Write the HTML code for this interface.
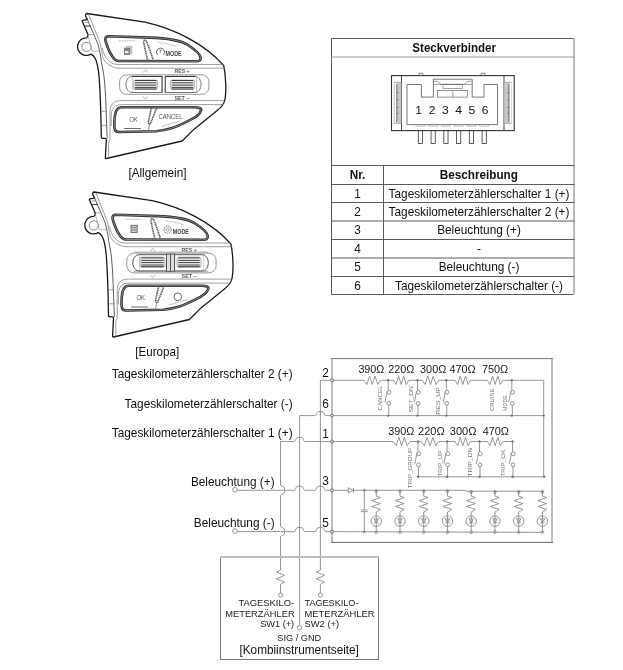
<!DOCTYPE html>
<html><head><meta charset="utf-8"><style>
html,body{margin:0;padding:0;background:#fff;width:623px;height:670px;overflow:hidden}
svg{display:block;will-change:transform}
text{font-family:"Liberation Sans", sans-serif}
</style></head><body>
<svg width="623" height="670" viewBox="0 0 623 670" font-family='"Liberation Sans", sans-serif'>
<g><path d="M86.8 13.5 L145 22.2 C175 29 205 44 223.7 65.5 C225.8 75 226.6 92 224.8 100 C224 104.5 221 107.5 216.9 110.8 L193.8 129.4 L182.2 141 L106.3 158.5 C105.5 158.5 105.3 158 105.4 157.3 L106.3 139.6 C106.3 138.7 105.9 138.3 105 138.3 L102.4 138.3 C101.6 138.3 101.3 137.8 101.3 137 C101 115 100 90 99.2 78 C98.3 68 96.8 60.5 94.6 57.3 C93.6 55.9 92.3 54.9 91 54.1 A8.8 8.8 0 1 1 86.4 37.8 C87.5 37.5 88.1 36.3 88.1 34.7 L82.4 21.8 C82 21 82 20.5 82.8 20.4 L87.3 19.6 L85.6 16 C85.3 14.8 85.8 13.7 86.8 13.5 Z" fill="#fff" stroke="#1a1a1a" stroke-width="1.3" stroke-linejoin="round"/><circle cx="86.6" cy="46.9" r="4.6" fill="none" stroke="#555" stroke-width="0.7"/><g fill="none"><path d="M87.5 19.7 L97.9 44 C99.5 50 100.8 56 101.4 61.9 L103.7 74 C104.5 80 105 88 105.5 95 L107.2 138.4" stroke="#333" stroke-width="0.8"/><path d="M88.9 14.8 L100.5 44 C101.5 50 102.2 54 102.8 57.4 C104 61 107 64 112 66.4 C114 67.5 116 68.2 120 68.2 H224.8" stroke="#777" stroke-width="0.7"/><path d="M102.3 48 C103.3 53 105.5 59.5 112 63.3 C114 64.2 116 64.5 120 64.5 H223.8" stroke="#777" stroke-width="0.7"/><path d="M88.3 36 L92 51.2 H98.7" stroke="#888" stroke-width="0.6" fill="none"/><path d="M84.3 26.1 H90.8" stroke="#222" stroke-width="0.9"/><path d="M84.3 22.4 H89 M88 34.5 H93.4 M101.4 111.3 H106.9 M101.4 125.3 H107" stroke="#666" stroke-width="0.6"/><path d="M108.6 158 V143 L110 140 V112 C110 104.5 113.5 100.6 121 100.6 H224.3" stroke="#777" stroke-width="0.7"/><path d="M111.2 126 V116 C111.2 109 114.5 104.6 121.5 104.6 H222" stroke="#777" stroke-width="0.7"/></g><rect x="119.6" y="74.8" width="89.3" height="19.5" rx="7" fill="none" stroke="#999" stroke-width="1"/><path d="M108.5 36.3 L150 37.6 C165 38 180 40 188 45 C195 49.5 200 54 200.6 57.5 C201 60.5 199 61.3 196 61.3 L118.5 61 C116.5 61 114.5 59.5 113 57.5 C110.5 54 108.5 50 107 45.5 C106 42.5 105.3 41 105.3 39.5 C105.3 37.5 106.5 36.3 108.5 36.3 Z" fill="none" stroke="#2a2a2a" stroke-width="2.6"/><path d="M108.5 36.3 L150 37.6 C165 38 180 40 188 45 C195 49.5 200 54 200.6 57.5 C201 60.5 199 61.3 196 61.3 L118.5 61 C116.5 61 114.5 59.5 113 57.5 C110.5 54 108.5 50 107 45.5 C106 42.5 105.3 41 105.3 39.5 C105.3 37.5 106.5 36.3 108.5 36.3 Z" fill="none" stroke="#aaa" stroke-width="0.7"/><path d="M147.6 60.6 L143.7 42.5 C143.4 41 144.5 40 145.5 40.5 C146.5 41 147 42 147.5 43.5 L153.2 59.8" fill="none" stroke="#555" stroke-width="1.6" stroke-dasharray="1.2 0.5"/><path d="M143.8 37.3 L144.2 41" stroke="#777" stroke-width="0.7"/><path d="M118.8 40.8 H135.2" stroke="#888" stroke-width="0.7" stroke-dasharray="1 0.6"/><path d="M158 42.4 C165 43 171 44.5 176.5 46.4" fill="none" stroke="#888" stroke-width="0.7" stroke-dasharray="1 0.6"/><text x="165.6" y="55.8" font-size="7" font-weight="bold" fill="#444" textLength="16.1" lengthAdjust="spacingAndGlyphs">MODE</text><path d="M121.5 107.2 L194.7 107.2 C199 107.2 201.5 108.2 201.1 110.4 C200 114 195 118 188.3 120.9 C182 124 177 126.5 172.2 128.1 C166 130 161 131 156.2 131.3 L119 132 C116.3 132 114.6 130.3 114.4 127.3 C114.2 121 114.6 116 115.7 112.4 C116.7 109.2 118.6 107.4 121.5 107.3 Z" fill="none" stroke="#2a2a2a" stroke-width="2.6"/><path d="M121.5 107.2 L194.7 107.2 C199 107.2 201.5 108.2 201.1 110.4 C200 114 195 118 188.3 120.9 C182 124 177 126.5 172.2 128.1 C166 130 161 131 156.2 131.3 L119 132 C116.3 132 114.6 130.3 114.4 127.3 C114.2 121 114.6 116 115.7 112.4 C116.7 109.2 118.6 107.4 121.5 107.3 Z" fill="none" stroke="#aaa" stroke-width="0.7"/><path d="M151.4 107.8 L148.5 121.5 C148.1 123.5 149.5 124.8 150.5 123.5 L156.8 107.8" fill="none" stroke="#555" stroke-width="1.6" stroke-dasharray="1.2 0.5"/><path d="M149.5 124 L148.3 131.5" stroke="#777" stroke-width="0.8"/><text x="129.2" y="121.5" font-size="7.6" fill="#555" textLength="8.6" lengthAdjust="spacingAndGlyphs">OK</text><line x1="124" y1="128.5" x2="140.9" y2="128.5" stroke="#444" stroke-width="0.8"/><path d="M161.8 126.5 L180.2 120.9" stroke="#888" stroke-width="0.8" stroke-dasharray="1 0.6"/><path d="M142.8 72.6 L145.5 70 L148.2 72.6 M142.8 96.6 L145.5 99.2 L148.2 96.6" fill="none" stroke="#777" stroke-width="0.6"/><text x="174.4" y="73.3" font-size="5.4" font-weight="bold" fill="#555" textLength="15.2" lengthAdjust="spacingAndGlyphs">RES +</text><text x="174.4" y="99.9" font-size="5.4" font-weight="bold" fill="#555" textLength="15.2" lengthAdjust="spacingAndGlyphs">SET −</text><path d="M132 76.4 H162.1 V92.5 H132 C128.5 92.5 126 89 126 84.5 C126 80 128.5 76.4 132 76.4 Z" fill="#fff" stroke="#555" stroke-width="0.8"/><path d="M165.3 76.4 H195 C198.5 76.4 201 80 201 84.5 C201 89 198.5 92.5 195 92.5 H165.3 Z" fill="#fff" stroke="#555" stroke-width="0.8"/><path d="M132 76.4 H162 M165.4 76.4 H195" stroke="#333" stroke-width="1"/><path d="M132.4 76.4 V92.5 M196.5 76.4 V92.5" stroke="#999" stroke-width="0.5"/><path d="M162.1 76 V93 M165.3 76 V93" stroke="#555" stroke-width="0.9"/><rect x="133.6" y="80.0" width="24.10" height="9.30" rx="1.8" fill="#f2f2f2" stroke="#888" stroke-width="0.6"/><line x1="134.79999999999998" y1="80.5" x2="156.5" y2="80.5" stroke="#2a2a2a" stroke-width="0.9"/><line x1="134.79999999999998" y1="82.8" x2="156.5" y2="82.8" stroke="#2a2a2a" stroke-width="0.9"/><line x1="134.79999999999998" y1="85.1" x2="156.5" y2="85.1" stroke="#2a2a2a" stroke-width="0.9"/><line x1="134.79999999999998" y1="87.4" x2="156.5" y2="87.4" stroke="#2a2a2a" stroke-width="0.9"/><line x1="134.79999999999998" y1="89.0" x2="156.5" y2="89.0" stroke="#2a2a2a" stroke-width="0.9"/><rect x="170.4" y="80.0" width="24.10" height="9.30" rx="1.8" fill="#f2f2f2" stroke="#888" stroke-width="0.6"/><line x1="171.6" y1="80.5" x2="193.3" y2="80.5" stroke="#2a2a2a" stroke-width="0.9"/><line x1="171.6" y1="82.8" x2="193.3" y2="82.8" stroke="#2a2a2a" stroke-width="0.9"/><line x1="171.6" y1="85.1" x2="193.3" y2="85.1" stroke="#2a2a2a" stroke-width="0.9"/><line x1="171.6" y1="87.4" x2="193.3" y2="87.4" stroke="#2a2a2a" stroke-width="0.9"/><line x1="171.6" y1="89.0" x2="193.3" y2="89.0" stroke="#2a2a2a" stroke-width="0.9"/><path d="M126.2 47.9 V46.4 H131.8 V53.4 H129.9" fill="#ccc" stroke="#aaa" stroke-width="0.8"/><rect x="124.3" y="48.2" width="5.4" height="6.3" fill="#888" stroke="#666" stroke-width="0.7"/><rect x="125" y="51" width="3.5" height="2.2" fill="#eee"/><path d="M157.5 54.8 A4 4 0 1 1 163.5 54.8" fill="none" stroke="#555" stroke-width="0.9"/><path d="M160.4 49.5 V53 M159.3 50.5 H161.5" stroke="#666" stroke-width="0.6"/><text x="158.6" y="118.9" font-size="6.8" fill="#555" textLength="24" lengthAdjust="spacingAndGlyphs">CANCEL</text></g>
<g transform="translate(7.2 178.5)"><path d="M86.8 13.5 L145 22.2 C175 29 205 44 223.7 65.5 C225.8 75 226.6 92 224.8 100 C224 104.5 221 107.5 216.9 110.8 L193.8 129.4 L182.2 141 L106.3 158.5 C105.5 158.5 105.3 158 105.4 157.3 L106.3 139.6 C106.3 138.7 105.9 138.3 105 138.3 L102.4 138.3 C101.6 138.3 101.3 137.8 101.3 137 C101 115 100 90 99.2 78 C98.3 68 96.8 60.5 94.6 57.3 C93.6 55.9 92.3 54.9 91 54.1 A8.8 8.8 0 1 1 86.4 37.8 C87.5 37.5 88.1 36.3 88.1 34.7 L82.4 21.8 C82 21 82 20.5 82.8 20.4 L87.3 19.6 L85.6 16 C85.3 14.8 85.8 13.7 86.8 13.5 Z" fill="#fff" stroke="#1a1a1a" stroke-width="1.3" stroke-linejoin="round"/><circle cx="86.6" cy="46.9" r="4.6" fill="none" stroke="#555" stroke-width="0.7"/><g fill="none"><path d="M87.5 19.7 L97.9 44 C99.5 50 100.8 56 101.4 61.9 L103.7 74 C104.5 80 105 88 105.5 95 L107.2 138.4" stroke="#333" stroke-width="0.8"/><path d="M88.9 14.8 L100.5 44 C101.5 50 102.2 54 102.8 57.4 C104 61 107 64 112 66.4 C114 67.5 116 68.2 120 68.2 H224.8" stroke="#777" stroke-width="0.7"/><path d="M102.3 48 C103.3 53 105.5 59.5 112 63.3 C114 64.2 116 64.5 120 64.5 H223.8" stroke="#777" stroke-width="0.7"/><path d="M88.3 36 L92 51.2 H98.7" stroke="#888" stroke-width="0.6" fill="none"/><path d="M84.3 26.1 H90.8" stroke="#222" stroke-width="0.9"/><path d="M84.3 22.4 H89 M88 34.5 H93.4 M101.4 111.3 H106.9 M101.4 125.3 H107" stroke="#666" stroke-width="0.6"/><path d="M108.6 158 V143 L110 140 V112 C110 104.5 113.5 100.6 121 100.6 H224.3" stroke="#777" stroke-width="0.7"/><path d="M111.2 126 V116 C111.2 109 114.5 104.6 121.5 104.6 H222" stroke="#777" stroke-width="0.7"/></g><rect x="119.6" y="74.8" width="89.3" height="19.5" rx="7" fill="none" stroke="#999" stroke-width="1"/><path d="M108.5 36.3 L150 37.6 C165 38 180 40 188 45 C195 49.5 200 54 200.6 57.5 C201 60.5 199 61.3 196 61.3 L118.5 61 C116.5 61 114.5 59.5 113 57.5 C110.5 54 108.5 50 107 45.5 C106 42.5 105.3 41 105.3 39.5 C105.3 37.5 106.5 36.3 108.5 36.3 Z" fill="none" stroke="#2a2a2a" stroke-width="2.6"/><path d="M108.5 36.3 L150 37.6 C165 38 180 40 188 45 C195 49.5 200 54 200.6 57.5 C201 60.5 199 61.3 196 61.3 L118.5 61 C116.5 61 114.5 59.5 113 57.5 C110.5 54 108.5 50 107 45.5 C106 42.5 105.3 41 105.3 39.5 C105.3 37.5 106.5 36.3 108.5 36.3 Z" fill="none" stroke="#aaa" stroke-width="0.7"/><path d="M147.6 60.6 L143.7 42.5 C143.4 41 144.5 40 145.5 40.5 C146.5 41 147 42 147.5 43.5 L153.2 59.8" fill="none" stroke="#555" stroke-width="1.6" stroke-dasharray="1.2 0.5"/><path d="M143.8 37.3 L144.2 41" stroke="#777" stroke-width="0.7"/><path d="M118.8 40.8 H135.2" stroke="#888" stroke-width="0.7" stroke-dasharray="1 0.6"/><path d="M158 42.4 C165 43 171 44.5 176.5 46.4" fill="none" stroke="#888" stroke-width="0.7" stroke-dasharray="1 0.6"/><text x="165.6" y="55.8" font-size="7" font-weight="bold" fill="#444" textLength="16.1" lengthAdjust="spacingAndGlyphs">MODE</text><path d="M121.5 107.2 L194.7 107.2 C199 107.2 201.5 108.2 201.1 110.4 C200 114 195 118 188.3 120.9 C182 124 177 126.5 172.2 128.1 C166 130 161 131 156.2 131.3 L119 132 C116.3 132 114.6 130.3 114.4 127.3 C114.2 121 114.6 116 115.7 112.4 C116.7 109.2 118.6 107.4 121.5 107.3 Z" fill="none" stroke="#2a2a2a" stroke-width="2.6"/><path d="M121.5 107.2 L194.7 107.2 C199 107.2 201.5 108.2 201.1 110.4 C200 114 195 118 188.3 120.9 C182 124 177 126.5 172.2 128.1 C166 130 161 131 156.2 131.3 L119 132 C116.3 132 114.6 130.3 114.4 127.3 C114.2 121 114.6 116 115.7 112.4 C116.7 109.2 118.6 107.4 121.5 107.3 Z" fill="none" stroke="#aaa" stroke-width="0.7"/><path d="M151.4 107.8 L148.5 121.5 C148.1 123.5 149.5 124.8 150.5 123.5 L156.8 107.8" fill="none" stroke="#555" stroke-width="1.6" stroke-dasharray="1.2 0.5"/><path d="M149.5 124 L148.3 131.5" stroke="#777" stroke-width="0.8"/><text x="129.2" y="121.5" font-size="7.6" fill="#555" textLength="8.6" lengthAdjust="spacingAndGlyphs">OK</text><line x1="124" y1="128.5" x2="140.9" y2="128.5" stroke="#444" stroke-width="0.8"/><path d="M161.8 126.5 L180.2 120.9" stroke="#888" stroke-width="0.8" stroke-dasharray="1 0.6"/><path d="M142.8 72.6 L145.5 70 L148.2 72.6 M142.8 96.6 L145.5 99.2 L148.2 96.6" fill="none" stroke="#777" stroke-width="0.6"/><text x="174.4" y="73.3" font-size="5.4" font-weight="bold" fill="#555" textLength="15.2" lengthAdjust="spacingAndGlyphs">RES +</text><text x="174.4" y="99.9" font-size="5.4" font-weight="bold" fill="#555" textLength="15.2" lengthAdjust="spacingAndGlyphs">SET −</text><path d="M126.5 74.2 H201 M126.5 93.4 H201" stroke="#bbb" stroke-width="2.6"/><path d="M132 76.2 H159.3 V92.4 H132 C128.5 92.4 125.6 89 125.6 84.3 C125.6 79.7 128.5 76.2 132 76.2 Z" fill="#fff" stroke="#444" stroke-width="0.9"/><path d="M167.4 76.2 H195 C198.5 76.2 201.1 79.7 201.1 84.3 C201.1 89 198.5 92.4 195 92.4 H167.4 Z" fill="#fff" stroke="#444" stroke-width="0.9"/><path d="M132.4 76.4 V92.4 M196.5 76.4 V92.4" stroke="#999" stroke-width="0.5"/><rect x="159.3" y="75.6" width="4" height="17.2" fill="#ddd" stroke="#444" stroke-width="0.8"/><rect x="163.3" y="75.6" width="4.1" height="17.2" fill="#ddd" stroke="#444" stroke-width="0.8"/><rect x="132.8" y="78.7" width="25.00" height="10.10" rx="1.8" fill="#f2f2f2" stroke="#888" stroke-width="0.6"/><line x1="134.0" y1="79.4" x2="156.60000000000002" y2="79.4" stroke="#2a2a2a" stroke-width="0.9"/><line x1="134.0" y1="81.9" x2="156.60000000000002" y2="81.9" stroke="#2a2a2a" stroke-width="0.9"/><line x1="134.0" y1="84.1" x2="156.60000000000002" y2="84.1" stroke="#2a2a2a" stroke-width="0.9"/><line x1="134.0" y1="86.5" x2="156.60000000000002" y2="86.5" stroke="#2a2a2a" stroke-width="0.9"/><line x1="134.0" y1="88.2" x2="156.60000000000002" y2="88.2" stroke="#2a2a2a" stroke-width="0.9"/><rect x="169.8" y="78.7" width="24.00" height="10.10" rx="1.8" fill="#f2f2f2" stroke="#888" stroke-width="0.6"/><line x1="171.0" y1="79.4" x2="192.60000000000002" y2="79.4" stroke="#2a2a2a" stroke-width="0.9"/><line x1="171.0" y1="81.9" x2="192.60000000000002" y2="81.9" stroke="#2a2a2a" stroke-width="0.9"/><line x1="171.0" y1="84.1" x2="192.60000000000002" y2="84.1" stroke="#2a2a2a" stroke-width="0.9"/><line x1="171.0" y1="86.5" x2="192.60000000000002" y2="86.5" stroke="#2a2a2a" stroke-width="0.9"/><line x1="171.0" y1="88.2" x2="192.60000000000002" y2="88.2" stroke="#2a2a2a" stroke-width="0.9"/><rect x="123.8" y="46.8" width="6.2" height="7.2" fill="#ccc" stroke="#555" stroke-width="0.8"/><path d="M124.3 49.2 H129.5 M124.3 51.6 H129.5" stroke="#555" stroke-width="0.6"/><circle cx="160.4" cy="51.2" r="3.6" fill="none" stroke="#555" stroke-width="0.9" stroke-dasharray="1.6 0.8"/><circle cx="160.4" cy="51.2" r="1.5" fill="none" stroke="#666" stroke-width="0.6"/><circle cx="170.6" cy="118.3" r="3.8" fill="none" stroke="#444" stroke-width="0.8"/></g>
<text x="157.4" y="177.1" font-size="11.75" text-anchor="middle" font-weight="normal" fill="#111" transform="translate(0 -7.084) scale(1 1.04)" >[Allgemein]</text>
<text x="157.2" y="356.4" font-size="11.6" text-anchor="middle" font-weight="normal" fill="#111" transform="translate(0 -14.256) scale(1 1.04)" >[Europa]</text>
<g stroke="#5a5a5a" stroke-width="1" fill="none">
<path d="M574 38.5 H331.5 V294.5 H574"/>
<line x1="574" y1="38" x2="574" y2="295" stroke="#bbb" stroke-width="2"/>
<line x1="331" y1="57" x2="574.5" y2="57" stroke="#999" stroke-width="1.2"/>
<line x1="331" y1="165.5" x2="574.5" y2="165.5"/>
<line x1="331" y1="184.5" x2="574.5" y2="184.5"/>
<line x1="331" y1="202.5" x2="574.5" y2="202.5"/>
<line x1="331" y1="221.0" x2="574.5" y2="221.0"/>
<line x1="331" y1="239.5" x2="574.5" y2="239.5"/>
<line x1="331" y1="258.0" x2="574.5" y2="258.0"/>
<line x1="331" y1="276.5" x2="574.5" y2="276.5"/>
<line x1="383.5" y1="165.5" x2="383.5" y2="294.5"/>
</g>
<text x="454.2" y="52.4" font-size="11.6" text-anchor="middle" font-weight="bold" fill="#111" transform="translate(0 -2.096) scale(1 1.04)" >Steckverbinder</text>
<text x="357.5" y="179.4" font-size="11.75" text-anchor="middle" font-weight="bold" fill="#111" transform="translate(0 -7.176) scale(1 1.04)" >Nr.</text>
<text x="478.8" y="179.4" font-size="11.75" text-anchor="middle" font-weight="bold" fill="#111" transform="translate(0 -7.176) scale(1 1.04)" >Beschreibung</text>
<text x="357.5" y="197.7" font-size="11.83" text-anchor="middle" font-weight="normal" fill="#111" transform="translate(0 -7.908) scale(1 1.04)" >1</text>
<text x="479" y="197.7" font-size="11.83" text-anchor="middle" font-weight="normal" fill="#111" transform="translate(0 -7.908) scale(1 1.04)" >Tageskilometerzählerschalter 1 (+)</text>
<text x="357.5" y="215.7" font-size="11.83" text-anchor="middle" font-weight="normal" fill="#111" transform="translate(0 -8.628) scale(1 1.04)" >2</text>
<text x="479" y="215.7" font-size="11.83" text-anchor="middle" font-weight="normal" fill="#111" transform="translate(0 -8.628) scale(1 1.04)" >Tageskilometerzählerschalter 2 (+)</text>
<text x="357.5" y="234.2" font-size="11.83" text-anchor="middle" font-weight="normal" fill="#111" transform="translate(0 -9.368) scale(1 1.04)" >3</text>
<text x="479" y="234.2" font-size="11.83" text-anchor="middle" font-weight="normal" fill="#111" transform="translate(0 -9.368) scale(1 1.04)" >Beleuchtung (+)</text>
<text x="357.5" y="252.7" font-size="11.83" text-anchor="middle" font-weight="normal" fill="#111" transform="translate(0 -10.108) scale(1 1.04)" >4</text>
<text x="479" y="252.7" font-size="11.83" text-anchor="middle" font-weight="normal" fill="#111" transform="translate(0 -10.108) scale(1 1.04)" >-</text>
<text x="357.5" y="271.2" font-size="11.83" text-anchor="middle" font-weight="normal" fill="#111" transform="translate(0 -10.848) scale(1 1.04)" >5</text>
<text x="479" y="271.2" font-size="11.83" text-anchor="middle" font-weight="normal" fill="#111" transform="translate(0 -10.848) scale(1 1.04)" >Beleuchtung (-)</text>
<text x="357.5" y="289.7" font-size="11.83" text-anchor="middle" font-weight="normal" fill="#111" transform="translate(0 -11.588) scale(1 1.04)" >6</text>
<text x="479" y="289.7" font-size="11.83" text-anchor="middle" font-weight="normal" fill="#111" transform="translate(0 -11.588) scale(1 1.04)" >Tageskilometerzählerschalter (-)</text>
<g stroke="#333" stroke-width="0.9" fill="none">
<rect x="391.5" y="75.6" width="122.7" height="55" stroke-width="1.1"/>
<line x1="401.5" y1="75.5" x2="401.5" y2="130.5"/>
<line x1="504" y1="75.5" x2="504" y2="130.5"/>
<rect x="394.1" y="82.1" width="7.1" height="41.4" fill="#c8c8c8" stroke="#999" stroke-width="0.6"/>
<rect x="394.6" y="83" width="1.9" height="39.5" fill="#fff" stroke="none"/>
<line x1="396.8" y1="84" x2="396.8" y2="122" stroke="#444" stroke-width="0.7"/>
<line x1="396.8" y1="92.6" x2="398.6" y2="92.6" stroke="#555" stroke-width="0.6"/>
<line x1="396.8" y1="99.6" x2="398.6" y2="99.6" stroke="#555" stroke-width="0.6"/>
<line x1="396.8" y1="107.5" x2="398.6" y2="107.5" stroke="#555" stroke-width="0.6"/>
<line x1="396.8" y1="113.4" x2="398.6" y2="113.4" stroke="#555" stroke-width="0.6"/>
<rect x="504.0" y="82.1" width="7.1" height="41.4" fill="#c8c8c8" stroke="#999" stroke-width="0.6"/>
<rect x="509.4" y="83" width="1.9" height="39.5" fill="#fff" stroke="none"/>
<line x1="508.9" y1="84" x2="508.9" y2="122" stroke="#444" stroke-width="0.7"/>
<line x1="508.9" y1="92.6" x2="507.1" y2="92.6" stroke="#555" stroke-width="0.6"/>
<line x1="508.9" y1="99.6" x2="507.1" y2="99.6" stroke="#555" stroke-width="0.6"/>
<line x1="508.9" y1="107.5" x2="507.1" y2="107.5" stroke="#555" stroke-width="0.6"/>
<line x1="508.9" y1="113.4" x2="507.1" y2="113.4" stroke="#555" stroke-width="0.6"/>
<path d="M407 84.5 H421.4 V97.1 H433.4 V79.2 H472.2 V97.1 H484 V84.5 H497.5 V124.6 H407 Z" stroke="#555" stroke-width="0.8"/>
<path d="M433.4 81.3 H438 L440.5 84.4 H464.3 L467.2 81.3 H472.2 M433.4 84.4 H472.2" stroke="#666" stroke-width="0.6"/>
<rect x="443" y="84.4" width="19.2" height="4" stroke="#666" stroke-width="0.6"/>
<rect x="437.3" y="90.5" width="30.3" height="6.6" stroke="#666" stroke-width="0.7"/>
<line x1="452.9" y1="91.5" x2="452.9" y2="97.1" stroke="#777" stroke-width="0.7"/>
<path d="M451.8 92.5 L452.9 91.5" stroke="#777" stroke-width="0.5"/>
<path d="M419 75.5 V73.3 H423 V75.5 M481 75.5 V73.3 H485 V75.5" stroke="#555" stroke-width="0.7"/>
<rect x="418.30" y="130.6" width="4.2" height="12.8" stroke="#333" stroke-width="0.8"/>
<path d="M415.90 124.6 v1.6 h9 v-1.6" stroke="#999" stroke-width="0.6"/>
<rect x="431.06" y="130.6" width="4.2" height="12.8" stroke="#333" stroke-width="0.8"/>
<path d="M428.66 124.6 v1.6 h9 v-1.6" stroke="#999" stroke-width="0.6"/>
<rect x="443.82" y="130.6" width="4.2" height="12.8" stroke="#333" stroke-width="0.8"/>
<path d="M441.42 124.6 v1.6 h9 v-1.6" stroke="#999" stroke-width="0.6"/>
<rect x="456.58" y="130.6" width="4.2" height="12.8" stroke="#333" stroke-width="0.8"/>
<path d="M454.18 124.6 v1.6 h9 v-1.6" stroke="#999" stroke-width="0.6"/>
<rect x="469.34" y="130.6" width="4.2" height="12.8" stroke="#333" stroke-width="0.8"/>
<path d="M466.94 124.6 v1.6 h9 v-1.6" stroke="#999" stroke-width="0.6"/>
<rect x="482.10" y="130.6" width="4.2" height="12.8" stroke="#333" stroke-width="0.8"/>
<path d="M479.70 124.6 v1.6 h9 v-1.6" stroke="#999" stroke-width="0.6"/>
</g>
<text x="0" y="0" font-size="10.5" text-anchor="middle" fill="#111" transform="translate(418.70 113.6) scale(1.15 1)">1</text>
<text x="0" y="0" font-size="10.5" text-anchor="middle" fill="#111" transform="translate(432.00 113.6) scale(1.15 1)">2</text>
<text x="0" y="0" font-size="10.5" text-anchor="middle" fill="#111" transform="translate(445.30 113.6) scale(1.15 1)">3</text>
<text x="0" y="0" font-size="10.5" text-anchor="middle" fill="#111" transform="translate(458.60 113.6) scale(1.15 1)">4</text>
<text x="0" y="0" font-size="10.5" text-anchor="middle" fill="#111" transform="translate(471.90 113.6) scale(1.15 1)">5</text>
<text x="0" y="0" font-size="10.5" text-anchor="middle" fill="#111" transform="translate(485.20 113.6) scale(1.15 1)">6</text>
<text x="292.6" y="378.1" font-size="11.83" text-anchor="end" font-weight="normal" fill="#111" transform="translate(0 -15.124) scale(1 1.04)" >Tageskilometerzählerschalter 2 (+)</text>
<text x="292.6" y="408.2" font-size="11.83" text-anchor="end" font-weight="normal" fill="#111" transform="translate(0 -16.328) scale(1 1.04)" >Tageskilometerzählerschalter (-)</text>
<text x="292.6" y="437.0" font-size="11.83" text-anchor="end" font-weight="normal" fill="#111" transform="translate(0 -17.480) scale(1 1.04)" >Tageskilometerzählerschalter 1 (+)</text>
<text x="274.6" y="485.8" font-size="11.83" text-anchor="end" font-weight="normal" fill="#111" transform="translate(0 -19.432) scale(1 1.04)" >Beleuchtung (+)</text>
<text x="274.6" y="527.4" font-size="11.83" text-anchor="end" font-weight="normal" fill="#111" transform="translate(0 -21.096) scale(1 1.04)" >Beleuchtung (-)</text>
<text x="322.2" y="377.3" font-size="11.83" text-anchor="start" font-weight="normal" fill="#111" transform="translate(0 -15.092) scale(1 1.04)" >2</text>
<text x="322.2" y="407.8" font-size="11.83" text-anchor="start" font-weight="normal" fill="#111" transform="translate(0 -16.312) scale(1 1.04)" >6</text>
<text x="322.2" y="438.3" font-size="11.83" text-anchor="start" font-weight="normal" fill="#111" transform="translate(0 -17.532) scale(1 1.04)" >1</text>
<text x="322.2" y="485.5" font-size="11.83" text-anchor="start" font-weight="normal" fill="#111" transform="translate(0 -19.420) scale(1 1.04)" >3</text>
<text x="322.2" y="527.3" font-size="11.83" text-anchor="start" font-weight="normal" fill="#111" transform="translate(0 -21.092) scale(1 1.04)" >5</text>
<g fill="none">
<path d="M332 542.3 V358.6 M552 358.6 V542.3" stroke="#bbb" stroke-width="1.9"/>
<path d="M331 358.6 H553" stroke="#777" stroke-width="1"/>
<path d="M331 542.4 H553" stroke="#666" stroke-width="1"/>
</g>
<g stroke="#8a8a8a" stroke-width="0.9" fill="none">
<path d="M320.4 570.2 V380.3 H332"/>
<path d="M299.6 625.5 V415.6 L315.40 415.6 C316.50 415.6 316.30 411.5 318.80 411.5 L322.00 411.5 C324.50 411.5 324.30 415.6 325.40 415.6 H332"/>
<path d="M280.5 441.5 L280.5 485.20 C280.5 486.40 284.7 486.20 284.7 488.70 L284.7 491.90 C284.7 494.40 280.5 494.20 280.5 495.40 L280.5 526.50 C280.5 527.70 284.7 527.50 284.7 530.00 L284.7 533.20 C284.7 535.70 280.5 535.50 280.5 536.70 L280.5 570.2"/>
<path d="M280.5 441.5 L294.60 441.5 C295.70 441.5 295.50 437.4 298.00 437.4 L301.20 437.4 C303.70 437.4 303.50 441.5 304.60 441.5 H332"/>
<path d="M237.3 490.3 H280.5 L294.60 490.3 C295.70 490.3 295.50 486.2 298.00 486.2 L301.20 486.2 C303.70 486.2 303.50 490.3 304.60 490.3 L315.40 490.3 C316.50 490.3 316.30 486.2 318.80 486.2 L322.00 486.2 C324.50 486.2 324.30 490.3 325.40 490.3 H332"/>
<circle cx="234.9" cy="489.7" r="2.3" fill="#fff"/>
<path d="M237.3 531.6 H280.5 L294.60 531.6 C295.70 531.6 295.50 527.5 298.00 527.5 L301.20 527.5 C303.70 527.5 303.50 531.6 304.60 531.6 L315.40 531.6 C316.50 531.6 316.30 527.5 318.80 527.5 L322.00 527.5 C324.50 527.5 324.30 531.6 325.40 531.6 H332"/>
<circle cx="234.9" cy="531.0" r="2.3" fill="#fff"/>
<path d="M280.5 570.2 L276.5 572 L284.5 575.3 L276.5 578.8 L284.5 582 L280.5 584.5 V593"/>
<circle cx="280.5" cy="595" r="2"/>
<path d="M320.4 570.2 L316.4 572 L324.4 575.3 L316.4 578.8 L324.4 582 L320.4 584.5 V593"/>
<circle cx="320.4" cy="595" r="2"/>
<circle cx="299.6" cy="627.7" r="2.2"/>
<circle cx="332" cy="380.3" r="1.5" fill="#fff" stroke="#666"/>
<circle cx="332" cy="415.6" r="1.5" fill="#fff" stroke="#666"/>
<circle cx="332" cy="441.5" r="1.5" fill="#fff" stroke="#666"/>
<circle cx="332" cy="490.3" r="1.5" fill="#fff" stroke="#666"/>
<circle cx="332" cy="531.6" r="1.5" fill="#fff" stroke="#666"/>
<path d="M332 380.3 H364.2"/>
<path d="M364.20 380.30 L366.92 384.50 L369.63 376.10 L372.35 384.50 L375.07 376.10 L377.78 384.50 L380.50 380.30"/>
<path d="M380.5 380.3 H393.5"/>
<path d="M393.50 380.30 L396.05 384.50 L398.60 376.10 L401.15 384.50 L403.70 376.10 L406.25 384.50 L408.80 380.30"/>
<path d="M408.8 380.3 H422.3"/>
<path d="M422.30 380.30 L425.03 384.50 L427.77 376.10 L430.50 384.50 L433.23 376.10 L435.97 384.50 L438.70 380.30"/>
<path d="M438.7 380.3 H455"/>
<path d="M455.00 380.30 L457.62 384.50 L460.23 376.10 L462.85 384.50 L465.47 376.10 L468.08 384.50 L470.70 380.30"/>
<path d="M470.7 380.3 H487.4"/>
<path d="M487.40 380.30 L490.00 384.50 L492.60 376.10 L495.20 384.50 L497.80 376.10 L500.40 384.50 L503.00 380.30"/>
<path d="M503 380.3 H543.7 V415.6"/>
<path d="M332 415.6 H543.7"/>
<path d="M388.2 380.3 V390.3" /><circle cx="389.0" cy="392.3" r="1.9"/><circle cx="388.7" cy="403.4" r="1.9"/><path d="M388.7 405.29999999999995 V415.6"/><path d="M385.0 402.4 L387.2 391.3"/>
<circle cx="388.2" cy="380.3" r="1.2" fill="#777" stroke="none"/>
<circle cx="388.2" cy="415.6" r="1.2" fill="#777" stroke="none"/>
<path d="M417.5 380.3 V390.3" /><circle cx="418.3" cy="392.3" r="1.9"/><circle cx="418.0" cy="403.4" r="1.9"/><path d="M418.0 405.29999999999995 V415.6"/><path d="M414.3 402.4 L416.5 391.3"/>
<circle cx="417.5" cy="380.3" r="1.2" fill="#777" stroke="none"/>
<circle cx="417.5" cy="415.6" r="1.2" fill="#777" stroke="none"/>
<path d="M446.3 380.3 V390.3" /><circle cx="447.1" cy="392.3" r="1.9"/><circle cx="446.8" cy="403.4" r="1.9"/><path d="M446.8 405.29999999999995 V415.6"/><path d="M443.1 402.4 L445.3 391.3"/>
<circle cx="446.3" cy="380.3" r="1.2" fill="#777" stroke="none"/>
<circle cx="446.3" cy="415.6" r="1.2" fill="#777" stroke="none"/>
<path d="M511.8 380.3 V390.3" /><circle cx="512.6" cy="392.3" r="1.9"/><circle cx="512.3" cy="403.4" r="1.9"/><path d="M512.3 405.29999999999995 V415.6"/><path d="M508.6 402.4 L510.8 391.3"/>
<circle cx="511.8" cy="380.3" r="1.2" fill="#777" stroke="none"/>
<circle cx="511.8" cy="415.6" r="1.2" fill="#777" stroke="none"/>
<circle cx="543.7" cy="415.6" r="1.2" fill="#777" stroke="none"/>
<path d="M332 441.5 H393.4"/>
<path d="M393.40 441.50 L396.13 445.70 L398.87 437.30 L401.60 445.70 L404.33 437.30 L407.07 445.70 L409.80 441.50"/>
<path d="M409.8 441.5 H421.3"/>
<path d="M421.30 441.50 L424.20 445.70 L427.10 437.30 L430.00 445.70 L432.90 437.30 L435.80 445.70 L438.70 441.50"/>
<path d="M438.7 441.5 H455"/>
<path d="M455.00 441.50 L457.62 445.70 L460.23 437.30 L462.85 445.70 L465.47 437.30 L468.08 445.70 L470.70 441.50"/>
<path d="M470.7 441.5 H487.4"/>
<path d="M487.40 441.50 L490.00 445.70 L492.60 437.30 L495.20 445.70 L497.80 437.30 L500.40 445.70 L503.00 441.50"/>
<path d="M503 441.5 H512.5"/>
<path d="M418 476.8 H544.2 M543.7 415.6 V476.8"/>
<path d="M418 441.5 V451.8" /><circle cx="418.8" cy="453.8" r="1.9"/><circle cx="418.5" cy="464.8" r="1.9"/><path d="M418.5 466.7 V476.8"/><path d="M414.8 463.8 L417 452.8"/>
<circle cx="418" cy="441.5" r="1.2" fill="#777" stroke="none"/>
<circle cx="418" cy="476.8" r="1.2" fill="#777" stroke="none"/>
<path d="M447.1 441.5 V451.8" /><circle cx="447.90000000000003" cy="453.8" r="1.9"/><circle cx="447.6" cy="464.8" r="1.9"/><path d="M447.6 466.7 V476.8"/><path d="M443.90000000000003 463.8 L446.1 452.8"/>
<circle cx="447.1" cy="441.5" r="1.2" fill="#777" stroke="none"/>
<circle cx="447.1" cy="476.8" r="1.2" fill="#777" stroke="none"/>
<path d="M479.5 441.5 V451.8" /><circle cx="480.3" cy="453.8" r="1.9"/><circle cx="480.0" cy="464.8" r="1.9"/><path d="M480.0 466.7 V476.8"/><path d="M476.3 463.8 L478.5 452.8"/>
<circle cx="479.5" cy="441.5" r="1.2" fill="#777" stroke="none"/>
<circle cx="479.5" cy="476.8" r="1.2" fill="#777" stroke="none"/>
<path d="M512.5 441.5 V451.8" /><circle cx="513.3" cy="453.8" r="1.9"/><circle cx="513.0" cy="464.8" r="1.9"/><path d="M513.0 466.7 V476.8"/><path d="M509.3 463.8 L511.5 452.8"/>
<circle cx="512.5" cy="441.5" r="1.2" fill="#777" stroke="none"/>
<circle cx="512.5" cy="476.8" r="1.2" fill="#777" stroke="none"/>
<circle cx="544.2" cy="476.8" r="1.2" fill="#777" stroke="none"/>
<path d="M332 490.3 H348.3 M353.5 490.3 H465.7 M465.7 491.2 H542.4"/>
<path d="M332 531.6 L542.4 532.4000000000001"/>
<path d="M348.3 487.7 V492.90000000000003 L353.3 490.3 Z M353.5 487.7 V492.90000000000003"/>
<path d="M364.3 490.3 V509.9 M361.2 509.9 H367.6 M361.2 511.6 H367.6 M364.3 511.6 V531.9000000000001"/>
<path d="M376.25 490.3 V496.2"/>
<path d="M374.65 490.6 H377.85 L376.25 493.1 Z"/>
<path d="M376.25 496.2 L380.45 497.5 L371.65 500.6 L380.45 503.6 L371.65 506.5 L380.45 509.4 L376.25 512 V515.9"/>
<circle cx="376.25" cy="521.1" r="5.2"/>
<path d="M373.95 518.8 H378.55 L376.25 522.6 Z M373.95 522.8 H378.55 M376.25 516 V526.3 M376.25 526.3 V532.2"/>
<circle cx="376.25" cy="532.2" r="1.3"/>
<circle cx="376.25" cy="490.3" r="1.1" fill="#888" stroke="none"/>
<path d="M399.99 490.3 V496.2"/>
<path d="M398.39 490.6 H401.59 L399.99 493.1 Z"/>
<path d="M399.99 496.2 L404.19 497.5 L395.39 500.6 L404.19 503.6 L395.39 506.5 L404.19 509.4 L399.99 512 V515.9"/>
<circle cx="399.99" cy="521.1" r="5.2"/>
<path d="M397.69 518.8 H402.29 L399.99 522.6 Z M397.69 522.8 H402.29 M399.99 516 V526.3 M399.99 526.3 V532.2"/>
<circle cx="399.99" cy="532.2" r="1.3"/>
<circle cx="399.99" cy="490.3" r="1.1" fill="#888" stroke="none"/>
<path d="M423.73 490.3 V496.2"/>
<path d="M422.13 490.6 H425.33 L423.73 493.1 Z"/>
<path d="M423.73 496.2 L427.93 497.5 L419.13 500.6 L427.93 503.6 L419.13 506.5 L427.93 509.4 L423.73 512 V515.9"/>
<circle cx="423.73" cy="521.1" r="5.2"/>
<path d="M421.43 518.8 H426.03 L423.73 522.6 Z M421.43 522.8 H426.03 M423.73 516 V526.3 M423.73 526.3 V532.2"/>
<circle cx="423.73" cy="532.2" r="1.3"/>
<circle cx="423.73" cy="490.3" r="1.1" fill="#888" stroke="none"/>
<path d="M447.47 490.3 V496.2"/>
<path d="M445.87 490.6 H449.07 L447.47 493.1 Z"/>
<path d="M447.47 496.2 L451.67 497.5 L442.87 500.6 L451.67 503.6 L442.87 506.5 L451.67 509.4 L447.47 512 V515.9"/>
<circle cx="447.47" cy="521.1" r="5.2"/>
<path d="M445.17 518.8 H449.77 L447.47 522.6 Z M445.17 522.8 H449.77 M447.47 516 V526.3 M447.47 526.3 V532.2"/>
<circle cx="447.47" cy="532.2" r="1.3"/>
<circle cx="447.47" cy="490.3" r="1.1" fill="#888" stroke="none"/>
<path d="M471.21 491.2 V496.2"/>
<path d="M469.61 491.5 H472.81 L471.21 494.0 Z"/>
<path d="M471.21 496.2 L475.41 497.5 L466.61 500.6 L475.41 503.6 L466.61 506.5 L475.41 509.4 L471.21 512 V515.9"/>
<circle cx="471.21" cy="521.1" r="5.2"/>
<path d="M468.91 518.8 H473.51 L471.21 522.6 Z M468.91 522.8 H473.51 M471.21 516 V526.3 M471.21 526.3 V532.2"/>
<circle cx="471.21" cy="532.2" r="1.3"/>
<circle cx="471.21" cy="491.2" r="1.1" fill="#888" stroke="none"/>
<path d="M494.95 491.2 V496.2"/>
<path d="M493.35 491.5 H496.55 L494.95 494.0 Z"/>
<path d="M494.95 496.2 L499.15 497.5 L490.35 500.6 L499.15 503.6 L490.35 506.5 L499.15 509.4 L494.95 512 V515.9"/>
<circle cx="494.95" cy="521.1" r="5.2"/>
<path d="M492.65 518.8 H497.25 L494.95 522.6 Z M492.65 522.8 H497.25 M494.95 516 V526.3 M494.95 526.3 V532.2"/>
<circle cx="494.95" cy="532.2" r="1.3"/>
<circle cx="494.95" cy="491.2" r="1.1" fill="#888" stroke="none"/>
<path d="M518.69 491.2 V496.2"/>
<path d="M517.09 491.5 H520.29 L518.69 494.0 Z"/>
<path d="M518.69 496.2 L522.89 497.5 L514.09 500.6 L522.89 503.6 L514.09 506.5 L522.89 509.4 L518.69 512 V515.9"/>
<circle cx="518.69" cy="521.1" r="5.2"/>
<path d="M516.39 518.8 H520.99 L518.69 522.6 Z M516.39 522.8 H520.99 M518.69 516 V526.3 M518.69 526.3 V532.2"/>
<circle cx="518.69" cy="532.2" r="1.3"/>
<circle cx="518.69" cy="491.2" r="1.1" fill="#888" stroke="none"/>
<path d="M542.43 491.2 V496.2"/>
<path d="M540.83 491.5 H544.03 L542.43 494.0 Z"/>
<path d="M542.43 496.2 L546.63 497.5 L537.83 500.6 L546.63 503.6 L537.83 506.5 L546.63 509.4 L542.43 512 V515.9"/>
<circle cx="542.43" cy="521.1" r="5.2"/>
<path d="M540.13 518.8 H544.73 L542.43 522.6 Z M540.13 522.8 H544.73 M542.43 516 V526.3 M542.43 526.3 V532.2"/>
<circle cx="542.43" cy="532.2" r="1.3"/>
<circle cx="542.43" cy="491.2" r="1.1" fill="#888" stroke="none"/>
<circle cx="364.3" cy="490.3" r="1.2" fill="#888" stroke="none"/>
<circle cx="364.3" cy="531.9000000000001" r="1.2" fill="#888" stroke="none"/>
</g>
<g font-size="10.3" fill="#1a1a1a">
<text x="358.4" y="372.8" textLength="26.0" lengthAdjust="spacingAndGlyphs">390Ω</text>
<text x="388.2" y="372.8" textLength="26.1" lengthAdjust="spacingAndGlyphs">220Ω</text>
<text x="420.1" y="372.8" textLength="26.2" lengthAdjust="spacingAndGlyphs">300Ω</text>
<text x="449.5" y="372.8" textLength="26.2" lengthAdjust="spacingAndGlyphs">470Ω</text>
<text x="481.9" y="372.8" textLength="26.4" lengthAdjust="spacingAndGlyphs">750Ω</text>
<text x="388.3" y="434.6" textLength="26.1" lengthAdjust="spacingAndGlyphs">390Ω</text>
<text x="418.0" y="434.6" textLength="26.7" lengthAdjust="spacingAndGlyphs">220Ω</text>
<text x="449.8" y="434.6" textLength="26.7" lengthAdjust="spacingAndGlyphs">300Ω</text>
<text x="482.7" y="434.6" textLength="26.2" lengthAdjust="spacingAndGlyphs">470Ω</text>
</g>
<g font-size="5.6" fill="#777">
<text x="0" y="0" text-anchor="middle" textLength="25.3" lengthAdjust="spacingAndGlyphs" transform="translate(381.8 397.9) rotate(-90)">CANCEL</text>
<text x="0" y="0" text-anchor="middle" textLength="26.5" lengthAdjust="spacingAndGlyphs" transform="translate(412.7 399.3) rotate(-90)">SET_DN</text>
<text x="0" y="0" text-anchor="middle" textLength="27.5" lengthAdjust="spacingAndGlyphs" transform="translate(440.4 401) rotate(-90)">RES_UP</text>
<text x="0" y="0" text-anchor="middle" textLength="22.3" lengthAdjust="spacingAndGlyphs" transform="translate(494.3 399.8) rotate(-90)">CRUISE</text>
<text x="0" y="0" text-anchor="middle" textLength="15.8" lengthAdjust="spacingAndGlyphs" transform="translate(506.6 403.1) rotate(-90)">MODE</text>
<text x="0" y="0" text-anchor="middle" textLength="40.5" lengthAdjust="spacingAndGlyphs" transform="translate(411.6 468) rotate(-90)">TRIP_GROUP</text>
<text x="0" y="0" text-anchor="middle" textLength="26" lengthAdjust="spacingAndGlyphs" transform="translate(442 463.6) rotate(-90)">TRIP_UP</text>
<text x="0" y="0" text-anchor="middle" textLength="29" lengthAdjust="spacingAndGlyphs" transform="translate(472.3 462.2) rotate(-90)">TRIP_DN</text>
<text x="0" y="0" text-anchor="middle" textLength="27" lengthAdjust="spacingAndGlyphs" transform="translate(505 463.1) rotate(-90)">TRIP_OK</text>
</g>
<path d="M220.5 659.5 V557 M378.5 557 V659.5 M220 659.5 H379" fill="none" stroke="#777" stroke-width="1"/>
<path d="M220 557 H379" fill="none" stroke="#bbb" stroke-width="2"/>
<g font-size="9.2" fill="#222">
<text x="294.2" y="605.7" text-anchor="end" textLength="55.8" lengthAdjust="spacingAndGlyphs">TAGESKILO-</text>
<text x="294.7" y="616.8" text-anchor="end" textLength="69.5" lengthAdjust="spacingAndGlyphs">METERZÄHLER</text>
<text x="294.2" y="627" text-anchor="end" textLength="34" lengthAdjust="spacingAndGlyphs">SW1 (+)</text>
<text x="304.5" y="605.7" textLength="54" lengthAdjust="spacingAndGlyphs">TAGESKILO-</text>
<text x="304.5" y="616.8" textLength="70.1" lengthAdjust="spacingAndGlyphs">METERZÄHLER</text>
<text x="304.5" y="627" textLength="34.6" lengthAdjust="spacingAndGlyphs">SW2 (+)</text>
<text x="299.3" y="641.1" text-anchor="middle">SIG / GND</text>
</g>
<text x="299.2" y="653.8" font-size="11.75" text-anchor="middle" font-weight="normal" fill="#111" transform="translate(0 -26.152) scale(1 1.04)" >[Kombiinstrumentseite]</text>
</svg>
</body></html>
